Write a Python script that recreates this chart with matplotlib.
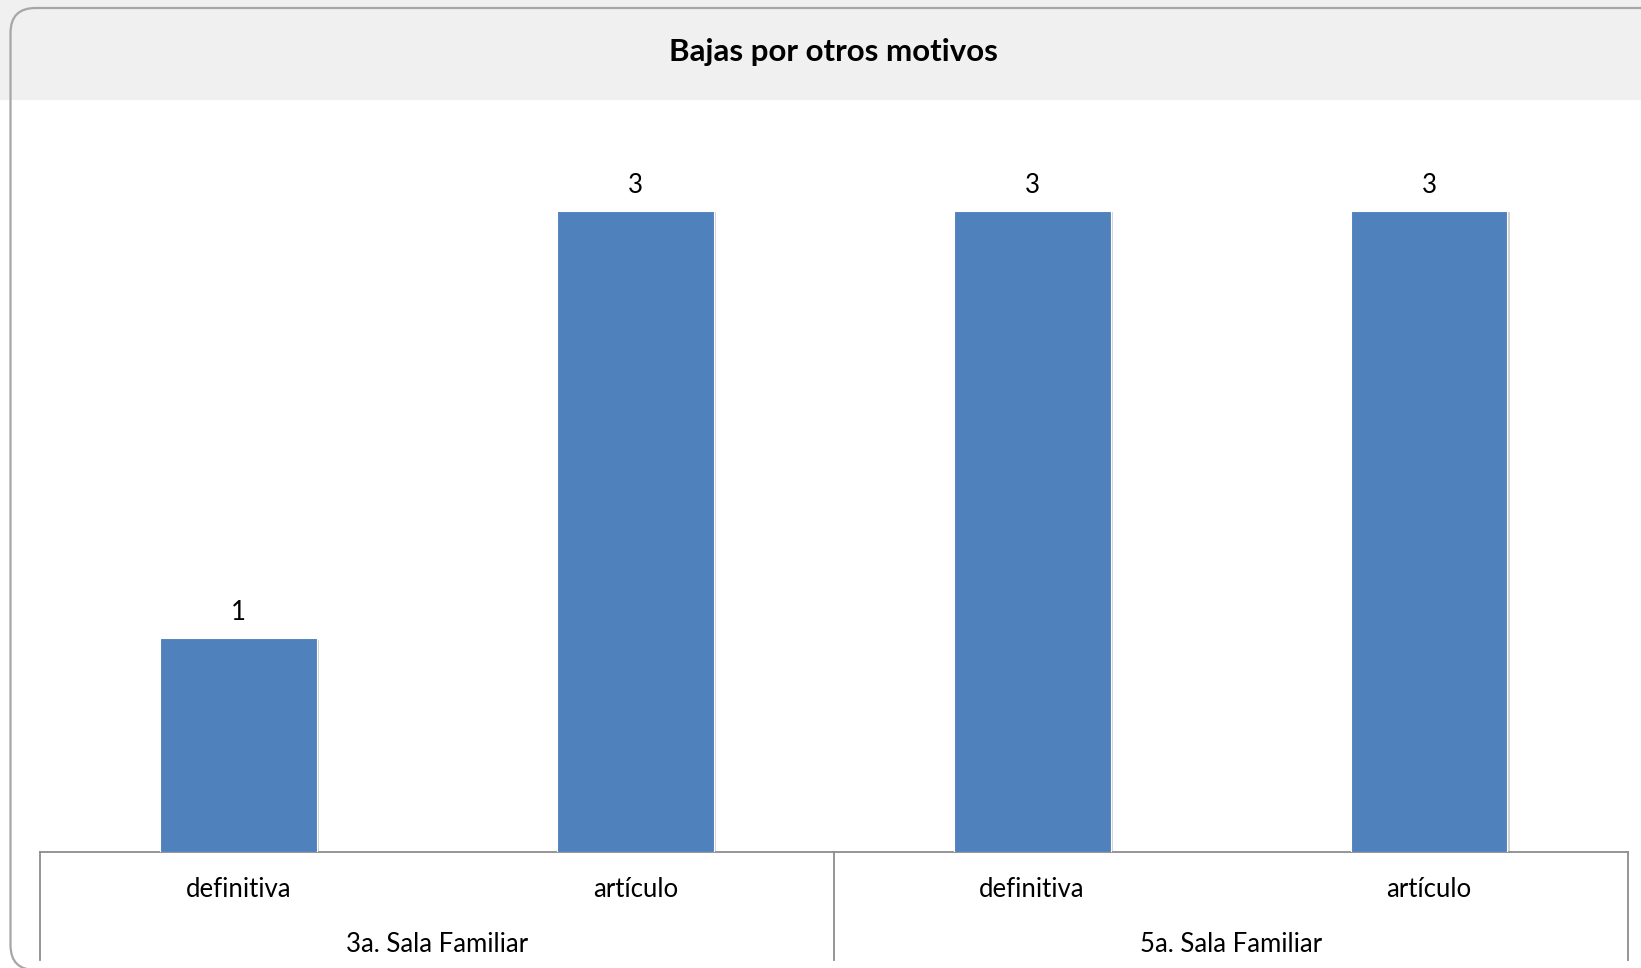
import matplotlib.pyplot as plt
import matplotlib.patheffects as pe
from matplotlib.patches import FancyBboxPatch, Rectangle
from matplotlib.transforms import IdentityTransform

# data
categories = ['definitiva', 'artículo', 'definitiva', 'artículo']
groups = ['3a. Sala Familiar', '5a. Sala Familiar']
values = [1, 3, 3, 3]

plt.rcParams['font.family'] = ['Lato', 'DejaVu Sans']

fig = plt.figure(figsize=(16.41, 9.68), dpi=100)
fig.patch.set_facecolor('white')

# grey header band and rounded frame (frame runs off the right and bottom edges)
fig.patches.append(Rectangle((0, 1 - 100 / 968), 1, 100 / 968, transform=fig.transFigure,
                             facecolor='#f0f0f0', edgecolor='none', zorder=0))
fig.patches.append(FancyBboxPatch((10.5, -2), 1660, 962,
                                  boxstyle='round,pad=0,rounding_size=25',
                                  transform=IdentityTransform(), facecolor='none',
                                  edgecolor='#a6a6a6', linewidth=1.6, zorder=1))
fig.text(833 / 1641, 1 - 52 / 968, 'Bajas por otros motivos', ha='center', va='center',
         fontsize=22.5, fontweight='bold')

ax = fig.add_axes([39.8 / 1641, 116 / 968, 1587.7 / 1641, 742 / 968])
ax.set_facecolor('none')
x = range(len(values))
bars = ax.bar(x, values, width=0.395, color='#4f81bd', edgecolor='white', linewidth=0.8,
              zorder=3)
for b in bars:
    b.set_path_effects([pe.SimplePatchShadow(offset=(2, -1), shadow_rgbFace='#808080', alpha=0.35),
                        pe.Normal()])
for xi, v in zip(x, values):
    ax.text(xi, v + 0.06, str(v), ha='center', va='bottom', fontsize=18.5)

ax.set_xlim(-0.5, 3.5)
ax.set_ylim(0, 3.47)
for s in ['top', 'right', 'left']:
    ax.spines[s].set_visible(False)
ax.spines['bottom'].set_color('#8c8c8c')
ax.spines['bottom'].set_linewidth(1.3)
ax.set_yticks([])
ax.set_xticks([])

# category and group labels below the axis
trans = ax.get_xaxis_transform()
for xi, c in zip(x, categories):
    ax.text(xi, -37.5 / 742, c, transform=trans, ha='center', va='center', fontsize=18.5)
for gi, g in enumerate(groups):
    ax.text(gi * 2 + 0.5, -92 / 742, g, transform=trans, ha='center', va='center', fontsize=18.5)
for xs in [-0.5, 1.5, 3.5]:
    ax.plot([xs, xs], [0, -108 / 742], transform=trans, color='#8c8c8c', linewidth=1.3,
            clip_on=False)

fig.savefig('out.png', dpi=100)
